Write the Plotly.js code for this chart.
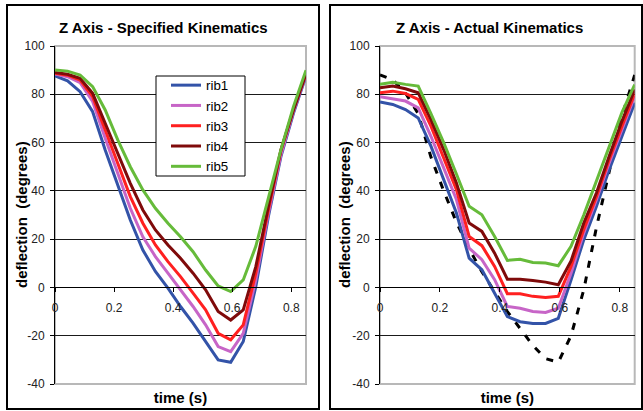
<!DOCTYPE html>
<html><head><meta charset="utf-8">
<script src="https://cdn.plot.ly/plotly-3.0.1.min.js"></script>
<style>html,body{margin:0;padding:0;background:#fff;}#chart{width:643px;height:411px;}</style>
</head><body><div id="chart"></div>
<script>
// ---- data ----
const time = [0, 0.0425, 0.085, 0.1275, 0.17, 0.2125, 0.255, 0.2975, 0.34, 0.3825, 0.425, 0.4675, 0.51, 0.5525, 0.595, 0.6375, 0.68, 0.7225, 0.765, 0.8075, 0.85];
const ribNames = ['rib1', 'rib2', 'rib3', 'rib4', 'rib5'];

const specRib1 = [87.6, 85.6, 81.1, 72.8, 56.9, 42.4, 27.9, 15.5, 6.6, -0.3, -7.9, -14.8, -22.4, -30, -31, -22.4, 0.3, 29.3, 54.2, 72.1, 87.6];
const specRib2 = [88.4, 87.3, 84.8, 77, 61.8, 47.3, 32.8, 21, 12.8, 5.9, -1, -7.9, -15.5, -24.5, -26.6, -19, 3.1, 30.7, 54.9, 72.8, 88];
const specRib3 = [88.7, 87.9, 85.9, 79, 65.2, 51.4, 37.6, 26.6, 17.6, 10.7, 4.5, -2.4, -9.3, -19, -21.7, -15.5, 5.9, 32.1, 56.6, 73.8, 88.5];
const specRib4 = [89, 88.3, 86.6, 80.4, 68, 55.6, 43.1, 32.1, 23.8, 17.6, 12.1, 5.9, -1, -10, -13.5, -9.3, 8.6, 33.5, 57, 73.5, 88.5];
const specRib5 = [90.1, 89.6, 88, 83.2, 73.5, 61.1, 50, 40.4, 32.8, 26.6, 21, 14.8, 7.2, 0.6, -1.7, 3.1, 17, 37.6, 57, 74.9, 90];

const actRib1 = [76.8, 75.8, 73.7, 70.2, 58.5, 44.7, 30.8, 12.1, 7.3, -2.4, -12.1, -14.2, -14.9, -14.9, -12.8, 3.1, 19.7, 33.6, 48.8, 62.6, 76.5];
const actRib2 = [79, 78.2, 77.2, 74.4, 62.6, 49.5, 36.4, 16.3, 11.5, 3.2, -7.9, -8.6, -10, -10.4, -8.6, 5.9, 22.5, 36.4, 51.6, 65.4, 79.2];
const actRib3 = [80.6, 81.3, 80.3, 77.9, 66.8, 53.6, 40.5, 21.1, 17.3, 8.7, -2.6, -2.6, -3.7, -4.2, -3.7, 8.7, 24, 37.7, 53, 66.8, 80.3];
const actRib4 = [82.7, 83.4, 82.3, 80.6, 69.5, 57.1, 43.3, 26.7, 23.2, 14.2, 3.4, 3.4, 2.9, 2.2, 1.1, 11, 26.7, 39.2, 54.4, 68.9, 82];
const actRib5 = [84.1, 85, 84.1, 83.4, 72, 60, 47, 33.6, 30.1, 21.1, 11.2, 11.7, 10.3, 10.1, 9, 17, 30, 44, 58, 72.5, 84];
const actSpecified = [88, 86, 80.5, 72, 54, 40, 27, 16, 6.5, -1.5, -10, -17, -24, -29.5, -31, -20, -1, 25, 48, 71, 88];

const xTickVals = [0, 0.2, 0.4, 0.6, 0.8];
const xTickText = ['0', '0.2', '0.4', '0.6', '0.8'];
const yTickVals = [-40, -20, 0, 20, 40, 60, 80, 100];
const yTickText = ['-40', '-20', '0', '20', '40', '60', '80', '100'];

// ---- styling ----
const colors = ['#3353A8', '#C765C7', '#FF2020', '#7F0A0A', '#66BB3A'];
const W = 643, H = 411;
const px = v => v / W;
const py = v => 1 - v / H;
const FONT = 'Liberation Sans, Arial, sans-serif';

const specSeries = [specRib1, specRib2, specRib3, specRib4, specRib5];
const actSeries = [actRib1, actRib2, actRib3, actRib4, actRib5];

const traces = [];
specSeries.forEach((ys, i) => traces.push({
  x: time, y: ys, type: 'scatter', mode: 'lines', name: ribNames[i],
  line: {color: colors[i], width: 3}, xaxis: 'x', yaxis: 'y', showlegend: true
}));
traces.push({
  x: time, y: actSpecified, type: 'scatter', mode: 'lines', name: 'specified',
  line: {color: '#000', width: 3, dash: '7px,9px'}, xaxis: 'x2', yaxis: 'y2', showlegend: false
});
actSeries.forEach((ys, i) => traces.push({
  x: time, y: ys, type: 'scatter', mode: 'lines', name: ribNames[i],
  line: {color: colors[i], width: 3}, xaxis: 'x2', yaxis: 'y2', showlegend: false
}));

const plotTop = 46, plotBot = 384;
const yDom = [py(plotBot), py(plotTop)];
const yMin = -40, yMax = 100;
const zeroPos = yDom[0] + (0 - yMin) / (yMax - yMin) * (yDom[1] - yDom[0]);
const Ldom = [px(55), px(306)];
const Rdom = [px(380), px(634.7)];
const plotMid = (plotTop + plotBot) / 2;

function yAxis(anchor) {
  return {
    domain: yDom, anchor: anchor, range: [yMin, yMax],
    tickvals: yTickVals, ticktext: yTickText,
    showgrid: true, gridcolor: '#1a1a1a', gridwidth: 1,
    showline: true, linecolor: '#000', linewidth: 1,
    ticks: 'outside', ticklen: 4, tickcolor: '#000', tickwidth: 1,
    ticklabelstandoff: 3,
    zeroline: false,
    tickfont: {family: FONT, size: 12, color: '#222'}
  };
}
function xAxis(domain) {
  return {
    domain: domain, anchor: 'free', position: zeroPos, range: [0, 0.85],
    tickvals: xTickVals, ticktext: xTickText,
    showgrid: false, zeroline: false,
    showline: true, linecolor: '#000', linewidth: 1,
    ticks: 'outside', ticklen: 4, tickcolor: '#000', tickwidth: 1,
    ticklabelstandoff: 5,
    tickfont: {family: FONT, size: 12, color: '#222'},
    title: {text: '<b>time (s)</b>', font: {family: FONT, size: 15, color: '#000'}, standoff: 78}
  };
}
function ann(text, x, y, angle) {
  return {text: text, xref: 'paper', yref: 'paper', x: px(x), y: py(y), xanchor: 'center', yanchor: 'middle',
          showarrow: false, textangle: angle, font: {family: FONT, size: 15, color: '#000'}};
}

const layout = {
  width: W, height: H,
  margin: {l: 0, r: 0, t: 0, b: 0},
  paper_bgcolor: '#fff', plot_bgcolor: 'rgba(0,0,0,0)',
  font: {family: FONT},
  xaxis: xAxis(Ldom),
  yaxis: yAxis('x'),
  xaxis2: xAxis(Rdom),
  yaxis2: yAxis('x2'),
  showlegend: true,
  legend: {
    x: px(166), y: py(70), xanchor: 'left', yanchor: 'top',
    bgcolor: 'rgba(0,0,0,0)', borderwidth: 0,
    font: {family: FONT, size: 13.3, color: '#000'},
    tracegroupgap: 0
  },
  annotations: [
    ann('<b>Z Axis - Specified Kinematics</b>', 163, 27, 0),
    ann('<b>Z Axis - Actual Kinematics</b>', 489, 27, 0),
    ann('<b>deflection\u00a0 (degrees)</b>', 21, plotMid, -90),
    ann('<b>deflection\u00a0 (degrees)</b>', 344, plotMid, -90)
  ],
  shapes: [
    {type: 'rect', xref: 'paper', yref: 'paper', x0: px(7), x1: px(319), y0: py(409), y1: py(5),
     line: {color: '#000', width: 2}},
    {type: 'rect', xref: 'paper', yref: 'paper', x0: px(330), x1: px(642), y0: py(409), y1: py(5),
     line: {color: '#000', width: 2}},
    {type: 'rect', xref: 'paper', yref: 'paper', x0: Ldom[0], x1: Ldom[1], y0: yDom[0], y1: yDom[1],
     line: {color: '#b8b8b8', width: 2}, layer: 'below'},
    {type: 'rect', xref: 'paper', yref: 'paper', x0: Rdom[0], x1: Rdom[1], y0: yDom[0], y1: yDom[1],
     line: {color: '#b8b8b8', width: 2}, layer: 'below'},
    // legend box (white panel with black frame, as in the reference)
    {type: 'rect', xref: 'paper', yref: 'paper', x0: px(156), x1: px(245), y0: py(176), y1: py(76),
     line: {color: '#000', width: 1}, fillcolor: '#fff', layer: 'above'}
  ]
};

Plotly.newPlot('chart', traces, layout, {staticPlot: true, displayModeBar: false});
</script></body></html>
